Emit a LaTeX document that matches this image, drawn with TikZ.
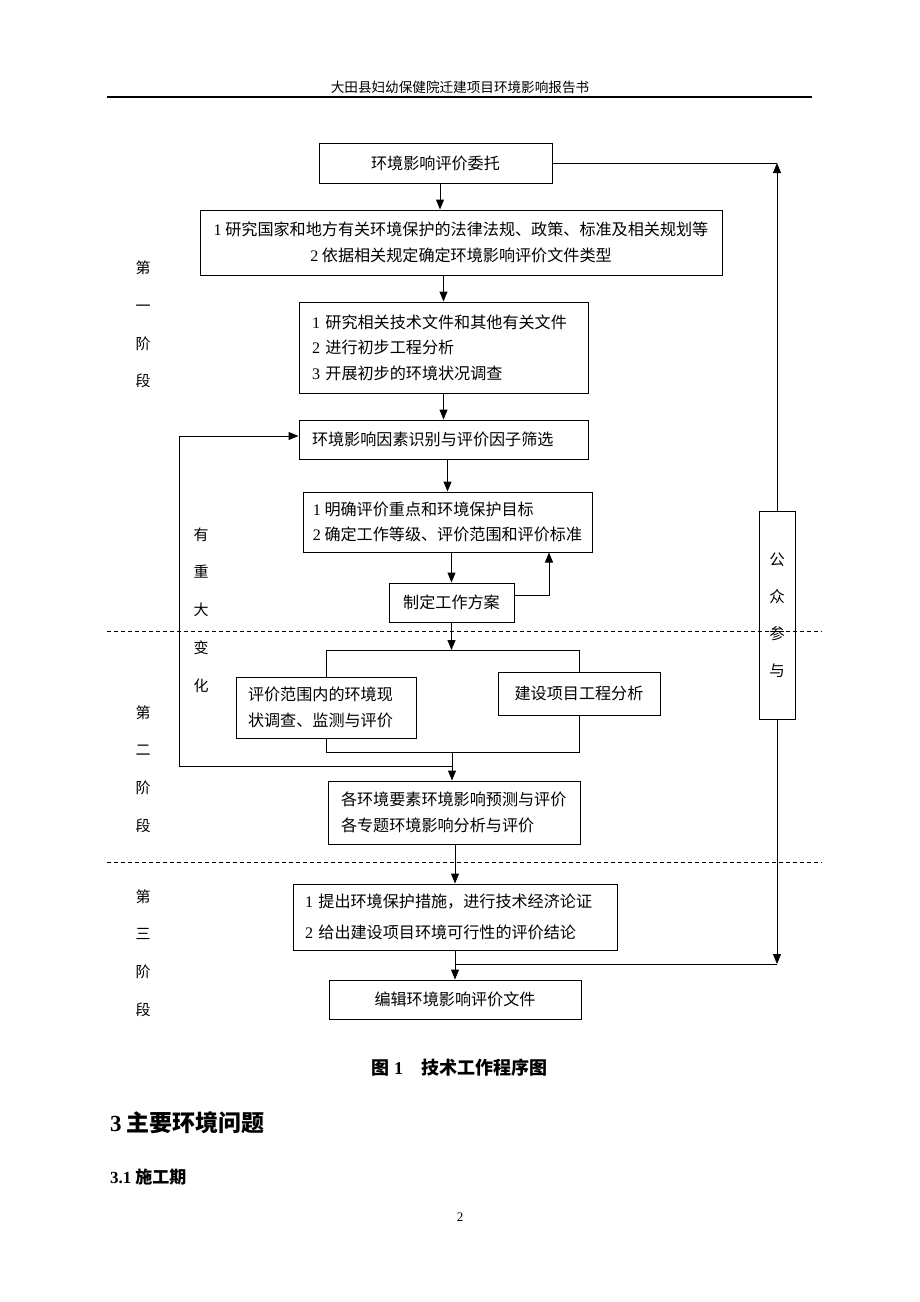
\documentclass[tikz,border=0pt]{standalone}
\usepackage{fontspec}
\setmainfont{Liberation Serif}
\newfontfamily\cjk{Noto Sans CJK SC}
\usetikzlibrary{arrows.meta,calc}
\newcommand\nm[1]{{\rmfamily #1}}
\newcommand\bx{\cjk\fontsize{16.1}{25.5}\selectfont}
\newcommand\lb{\cjk\fontsize{15}{37.8}\selectfont}
\begin{document}
\begin{tikzpicture}[x=1pt,y=-1pt,
  box/.style={draw, line width=1pt, inner xsep=0pt, inner ysep=0pt, font=\bx},
  lbox/.style={box, align=left},
  arr/.style={line width=1pt, -{Triangle[length=10pt,width=8pt]}},
  ln/.style={line width=1pt},
  lbl/.style={font=\lb, align=center, inner sep=0pt},
  dsh/.style={line width=1pt, dash pattern=on 4pt off 3pt}]
\useasboundingbox (0,0) rectangle (920,1302);
\fill[white] (0,0) rectangle (920,1302);

% header
\node[font=\cjk\fontsize{13.6}{16}\selectfont, inner sep=0pt] (hdr) at (460,87) {大田县妇幼保健院迁建项目环境影响报告书};
\draw[line width=1.3pt] (107,97) -- (812,97);

% boxes
\node[box, minimum width=233pt, minimum height=40pt] (A) at (435.5,163) {环境影响评价委托};
\node[box, minimum width=522pt, minimum height=65pt, align=center, font=\cjk\fontsize{16.1}{26}\selectfont] (B) at (461,242.5)
  {\nm{1} 研究国家和地方有关环境保护的法律法规、政策、标准及相关规划等\\\nm{2} 依据相关规定确定环境影响评价文件类型};
\node[lbox, minimum width=289pt, minimum height=91pt, text width=263pt, inner xsep=13pt] (C) at (443.5,347.5)
  {\nm{1} 研究相关技术文件和其他有关文件\\\nm{2} 进行初步工程分析\\\nm{3} 开展初步的环境状况调查};
\node[lbox, minimum width=289pt, minimum height=39pt, text width=263pt, inner xsep=13pt] (D) at (443.5,439.5)
  {环境影响因素识别与评价因子筛选};
\node[lbox, minimum width=289pt, minimum height=60pt] (E) at (447.5,522)
  {\nm{1} 明确评价重点和环境保护目标\\\nm{2} 确定工作等级、评价范围和评价标准};
\node[box, minimum width=125pt, minimum height=39pt] (F) at (451.5,602.5) {制定工作方案};
\node[lbox, minimum width=180pt, minimum height=61pt, text width=156pt, inner xsep=12pt, font=\cjk\fontsize{16.1}{26}\selectfont] (G) at (326,707.5)
  {评价范围内的环境现\\状调查、监测与评价};
\node[box, minimum width=162pt, minimum height=43pt] (H) at (579,693.5) {建设项目工程分析};
\node[lbox, minimum width=252pt, minimum height=63pt, text width=226pt, inner xsep=13pt, font=\cjk\fontsize{16.1}{26}\selectfont] (I) at (454,812.5)
  {各环境要素环境影响预测与评价\\各专题环境影响分析与评价};
\node[lbox, minimum width=324pt, minimum height=66pt, text width=300pt, inner xsep=12pt, font=\cjk\fontsize{16.1}{31}\selectfont] (J) at (455,917)
  {\nm{1} 提出环境保护措施，进行技术经济论证\\\nm{2} 给出建设项目环境可行性的评价结论};
\node[box, minimum width=252pt, minimum height=39pt] (K) at (455,999.5) {编辑环境影响评价文件};
\node[box, minimum width=36pt, minimum height=208pt, align=center, font=\cjk\fontsize{15.5}{37}\selectfont] (P) at (777,615)
  {公\\众\\参\\与};

% stage labels
\node[lbl] (s1) at (143,324.5) {第\\一\\阶\\段};
\node[lbl] (chg) at (201,610) {有\\重\\大\\变\\化};
\node[lbl] (s2) at (143,769) {第\\二\\阶\\段};
\node[lbl] (s3) at (143,953) {第\\三\\阶\\段};

% dashed separators
\draw[dsh] (107,631) -- (822,631);
\draw[dsh] (107,862) -- (822,862);

% coordinates
\coordinate (fr) at (549,0);
\coordinate (bt) at (452,650);
\coordinate (bb) at (452,752);
\coordinate (fb) at (179,766);
\coordinate (pj) at (777,964);

% connectors
\draw[arr] ([xshift=4.5pt]A.south) -- ([xshift=4.5pt]A.south |- B.north);
\draw[arr] (B.south -| C) -- (C.north);
\draw[arr] (C.south) -- (C.north |- D.north);
\draw[arr] (D.south -| E) -- (E.north);
\draw[arr] (E.south -| F) -- (F.north);
\draw[arr] ([yshift=7.5pt]F.east) -| (E.south -| fr);
\draw[arr] (F.south) -- (F.south |- bt);
\draw[ln] (G.north) |- (bt) -| (H.north);
\draw[ln] (G.south) |- (bb) -| (H.south);
\draw[arr] (bb) -- (bb |- I.north);
\draw[arr] (bb |- fb) -- (fb) |- ([yshift=3.5pt]D.west);
\draw[arr] (I.south -| J) -- (J.north);
\draw[arr] (J.south) -- (K.north);
\draw[arr] (P.south) -- (pj);
\draw[ln] (pj) -- (pj -| K.north);
\draw[arr] (P.north) -- (P.north |- A.east);
\draw[ln] (P.north |- A.east) -- (A.east);

% caption and text below
\node[font=\cjk\bfseries\fontsize{18}{21}\selectfont, anchor=west, inner sep=0pt] (cap) at (371,1068)
  {图\hspace{5pt}{\rmfamily\bfseries 1}\hspace{18pt}技术工作程序图};
\node[font=\cjk\bfseries\fontsize{23}{28}\selectfont, anchor=west, inner sep=0pt] (h3) at (110,1123)
  {{\rmfamily\bfseries 3} 主要环境问题};
\node[font=\cjk\bfseries\fontsize{17}{20}\selectfont, anchor=west, inner sep=0pt] (h31) at (110,1177)
  {{\rmfamily\bfseries 3.1} 施工期};
\node[font=\rmfamily\fontsize{13}{15}\selectfont, inner sep=0pt] (pg) at (460,1217) {2};
\end{tikzpicture}
\end{document}
